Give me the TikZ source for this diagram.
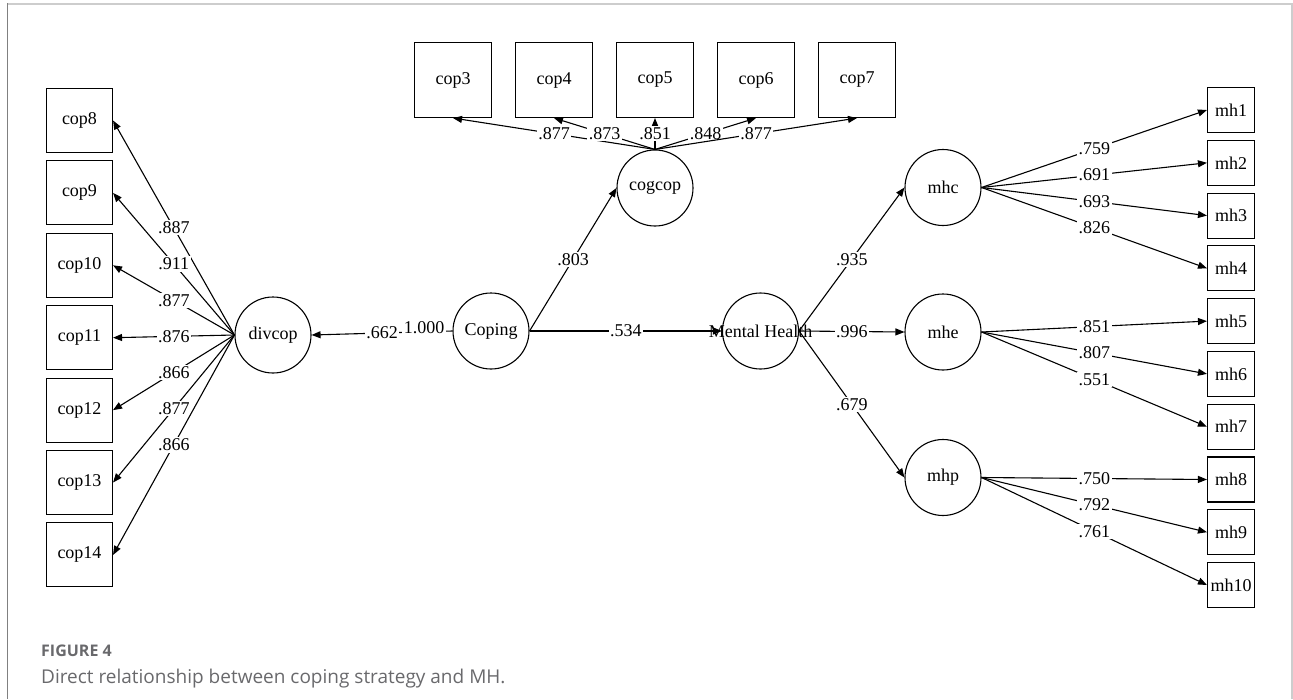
\documentclass[tikz,border=0pt]{standalone}
\usepackage{fontspec}
\setmainfont{Liberation Serif}
\newfontfamily\capfont{Open Sans}
\usepackage{xcolor}
\usepackage{tikz}
\usetikzlibrary{positioning,arrows.meta}
\definecolor{framegrey}{RGB}{205,205,205}
\definecolor{frameedge}{RGB}{128,128,128}
\definecolor{captiongrey}{RGB}{105,105,108}
\tikzset{
  semfont/.style={font=\fontsize{18}{20}\selectfont},
  topbox/.style={draw=black, line width=1.1pt, inner sep=0pt, minimum width=77pt, minimum height=75pt, semfont},
  leftbox/.style={draw=black, line width=1.1pt, inner sep=0pt, minimum width=66pt, minimum height=64pt, semfont},
  rightbox/.style={draw=black, line width=1.1pt, inner sep=0pt, minimum width=47pt, minimum height=45pt, semfont},
  latent/.style={circle, draw=black, line width=1.1pt, inner sep=0pt, minimum size=76pt, semfont},
  loadlbl/.style={fill=white, inner sep=1.5pt, semfont},
  pathline/.style={line width=1.1pt, -{Triangle[length=9pt,width=7pt]}}
}
\newcommand{\loading}[3]{%
  \draw[pathline] (#1) -- node[loadlbl] {#3} (#2);}

\begin{document}
\begin{tikzpicture}[x=1pt, y=-1pt]
  \useasboundingbox (0,0) rectangle (1293,699);
  % open frame
  \draw[framegrey, line width=1.6pt] (7.5,4) -- (1292,4) -- (1292,699);
  \draw[frameedge, line width=1.6pt] (7.5,3.2) -- (7.5,699);

  % latent variables
  \node[latent] (coping) at (491,331) {Coping};
  \node[latent, label={[semfont]center:Mental Health}] (mhealth) at (760.5,331) {};
  \node[latent] (cogcop) at (655,188) {cogcop};
  \node[latent] (divcop) at (273,335) {divcop};
  \node[latent] (mhc) at (943,187.5) {mhc};
  \node[latent] (mhe) at (943,332) {mhe};
  \node[latent] (mhp) at (943,477.5) {mhp};

  % cognitive coping items
  \node[topbox] (cop3) at (453,80) {cop3};
  \node[topbox] (cop4) at (554,80) {cop4};
  \node[topbox] (cop5) at (655,80) {cop5};
  \node[topbox] (cop6) at (756,80) {cop6};
  \node[topbox] (cop7) at (857,80) {cop7};

  % diversion coping items
  \node[leftbox] (cop8)  at (79.5,120.5) {cop8};
  \node[leftbox] (cop9)  at (79.5,192.9) {cop9};
  \node[leftbox] (cop10) at (79.5,265.3) {cop10};
  \node[leftbox] (cop11) at (79.5,337.7) {cop11};
  \node[leftbox] (cop12) at (79.5,410.1) {cop12};
  \node[leftbox] (cop13) at (79.5,482.5) {cop13};
  \node[leftbox] (cop14) at (79.5,554.9) {cop14};

  % mental health items
  \node[rightbox] (mh1)  at (1231,110.0) {mh1};
  \node[rightbox] (mh2)  at (1231,162.8) {mh2};
  \node[rightbox] (mh3)  at (1231,215.6) {mh3};
  \node[rightbox] (mh4)  at (1231,268.3) {mh4};
  \node[rightbox] (mh5)  at (1231,321.1) {mh5};
  \node[rightbox] (mh6)  at (1231,373.9) {mh6};
  \node[rightbox] (mh7)  at (1231,426.7) {mh7};
  \node[rightbox] (mh8)  at (1231,479.5) {mh8};
  \node[rightbox] (mh9)  at (1231,532.2) {mh9};
  \node[rightbox] (mh10) at (1231,585.0) {mh10};

  % structural paths
  \loading{coping.west}{divcop.east}{.662}
  \node[loadlbl] (copvar) at (424,328) {1.000};
  \loading{coping.east}{cogcop.west}{.803}
  \loading{coping.east}{mhealth.west}{.534}
  \loading{mhealth.east}{mhc.west}{.935}
  \loading{mhealth.east}{mhe.west}{.996}
  \loading{mhealth.east}{mhp.west}{.679}

  % loadings
  \loading{cogcop.north}{cop3.south}{.877}
  \loading{cogcop.north}{cop4.south}{.873}
  \loading{cogcop.north}{cop5.south}{.851}
  \loading{cogcop.north}{cop6.south}{.848}
  \loading{cogcop.north}{cop7.south}{.877}
  \loading{divcop.west}{cop8.east}{.887}
  \loading{divcop.west}{cop9.east}{.911}
  \loading{divcop.west}{cop10.east}{.877}
  \loading{divcop.west}{cop11.east}{.876}
  \loading{divcop.west}{cop12.east}{.866}
  \loading{divcop.west}{cop13.east}{.877}
  \loading{divcop.west}{cop14.east}{.866}
  \loading{mhc.east}{mh1.west}{.759}
  \loading{mhc.east}{mh2.west}{.691}
  \loading{mhc.east}{mh3.west}{.693}
  \loading{mhc.east}{mh4.west}{.826}
  \loading{mhe.east}{mh5.west}{.851}
  \loading{mhe.east}{mh6.west}{.807}
  \loading{mhe.east}{mh7.west}{.551}
  \loading{mhp.east}{mh8.west}{.750}
  \loading{mhp.east}{mh9.west}{.792}
  \loading{mhp.east}{mh10.west}{.761}

  % caption
  \node[anchor=base west, inner sep=0pt, text=captiongrey, font=\capfont\bfseries\fontsize{16}{18}\selectfont] (figlbl) at (41,656.5) {FIGURE 4};
  \node[anchor=base west, inner sep=0pt, text=captiongrey, font=\capfont\fontsize{19}{22}\selectfont] (figcap) at (41,683) {Direct relationship between coping strategy and MH.};
\end{tikzpicture}
\end{document}
